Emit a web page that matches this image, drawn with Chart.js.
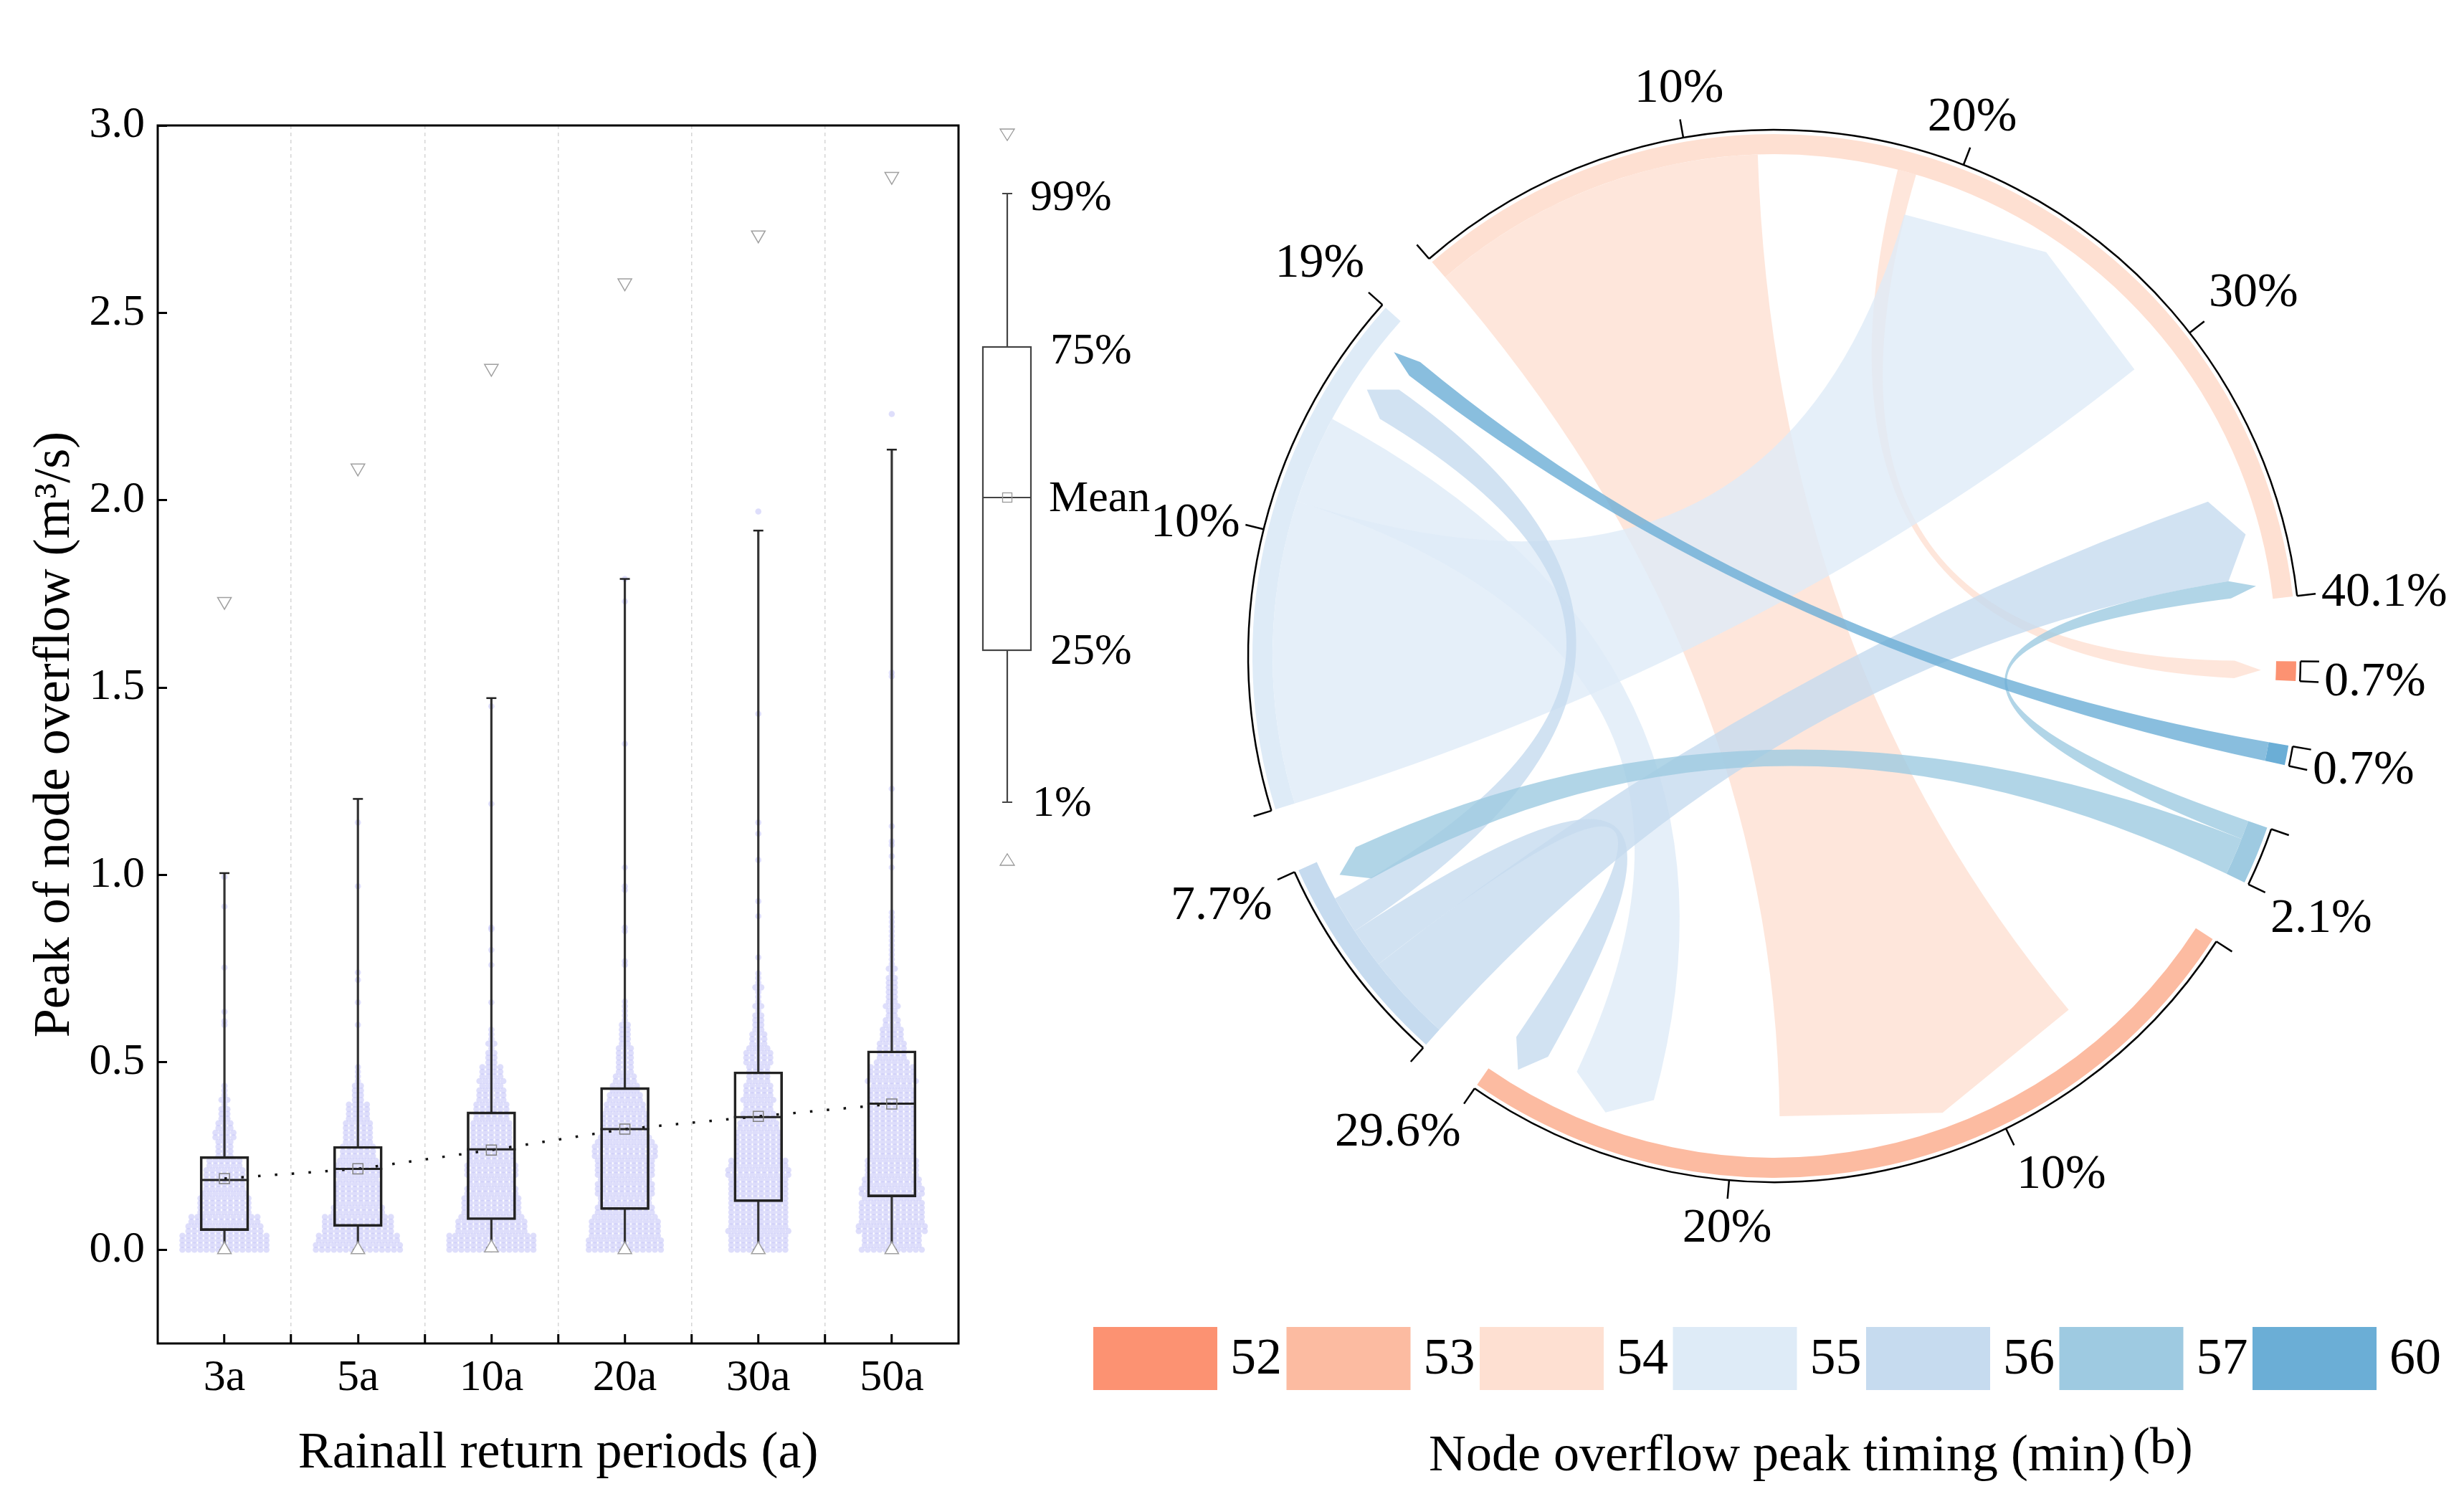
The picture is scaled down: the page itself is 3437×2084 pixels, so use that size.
<!DOCTYPE html>
<html>
<head>
<meta charset="utf-8">
<script src="https://cdn.jsdelivr.net/npm/chart.js"></script>
<style>
html, body { margin: 0; padding: 0; background: #fff; }
body { width: 3437px; height: 2084px; position: relative; overflow: hidden; }
#boxChart { position: absolute; left: 0; top: 0; }
#chordChart { position: absolute; left: 1480px; top: 0; }
</style>
</head>
<body>
<canvas id="boxChart" width="1620" height="2084"></canvas>
<canvas id="chordChart" width="1957" height="2084"></canvas>
<script>
// ---- panel (a): box plot data ----
const periods = ["3a", "5a", "10a", "20a", "30a", "50a"];
const q1 = [0.051, 0.062, 0.080, 0.107, 0.128, 0.141];
const median = [0.186, 0.216, 0.268, 0.322, 0.354, 0.390];
const q3 = [0.249, 0.276, 0.368, 0.433, 0.475, 0.531];
const mean = [0.190, 0.216, 0.266, 0.322, 0.356, 0.389];
const p1 = [0.0, 0.0, 0.005, 0.0, 0.0, 0.0];
const p99 = [1.005, 1.203, 1.472, 1.790, 1.919, 2.135];
const minV = [0.0, 0.0, 0.005, 0.0, 0.0, 0.0];
const maxV = [1.73, 2.086, 2.352, 2.58, 2.708, 2.864];
const yTicks = [0, 0.5, 1.0, 1.5, 2.0, 2.5, 3.0];

// node counts per 0.05 bin (from 0), plus single high values
const swarm3a = [60, 50, 36, 29, 26, 12, 14, 7, 5];
const swarm5a = [58, 48, 34, 31, 31, 23, 20, 16, 8, 4];
const swarm10a = [60, 47, 40, 34, 35, 30, 28, 24, 19, 17, 7, 5];
const swarm20a = [51, 47, 38, 39, 40, 43, 33, 30, 22, 14, 12, 8, 5, 2];
const swarm30a = [40, 41, 40, 40, 42, 32, 30, 22, 21, 16, 19, 11, 7, 5, 5];
const swarm50a = [41, 46, 43, 42, 36, 32, 32, 32, 31, 33, 21, 17, 10, 9, 7, 5, 4, 4, 1];
const sparse3a = [0.60, 0.61, 0.635, 0.753, 0.916, 0.995];
const sparse5a = [0.60, 0.66, 0.72, 0.74, 0.97, 1.14];
const sparse10a = [0.66, 0.76, 0.80, 0.855, 0.86, 1.19, 1.45];
const sparse20a = [0.76, 0.77, 0.85, 0.86, 0.96, 0.97, 1.02, 1.35, 1.73, 1.79];
const sparse30a = [0.78, 0.89, 0.93, 1.04, 1.11, 1.14, 1.43, 1.97];
const sparse50a = [1.02, 1.05, 1.08, 1.09, 1.13, 1.23, 1.53, 1.54, 2.23];

// ---- panel (b): chord data (clockwise from top-left) ----
const groupNames = ["54", "52", "60", "57", "53", "56", "55"];
const groupShare = [40.1, 0.7, 0.7, 2.1, 29.6, 7.7, 19];
const groupColors = ["#FEE0D2", "#FC9272", "#6BAED6", "#9ECAE1", "#FCBBA1", "#C6DBEF", "#DEEBF7"];
const flowFrom = ["54", "54", "55", "55", "56", "56", "56", "57", "57", "60"];
const flowTo = ["53", "52", "54", "53", "54", "53", "55", "54", "56", "55"];
const flowValue = [12.6, 0.7, 11.3, 3.3, 3.3, 1.5, 1.4, 0.7, 1.4, 0.7];
// order of links along each arc; numbers are shares not drawn as links
const arcOrder = [
    ["54>53", 5.2, "54>52", "55>54", 6.1, "56>54", "57>54"],
    ["54>52"],
    ["60>55"],
    ["57>54", "57>56"],
    [5.6, "54>53", 5.1, "55>53", 1.3, "56>53"],
    ["56>54", "56>53", "56>55", "57>56"],
    ["55>54", "55>53", 0.9, "56>55", 0.7, "60>55"],
];
const arcGap = 2.3;

Chart.defaults.font.family = "'Liberation Serif', 'Times New Roman', serif";
Chart.defaults.color = "#000";

// beeswarm layout: 4 rows per bin, dots centred on the category
const rowStep = 0.0125;
const dotStep = 0.045;
function swarmPoints(ci, bins, sparse) {
    const pts = [];
    bins.forEach((n, b) => {
        for (let k = 0; k < 4; k++) {
            const m = Math.floor(n / 4) + (k < n % 4 ? 1 : 0);
            const y = b * 0.05 + k * rowStep;
            for (let j = 0; j < m; j++) {
                pts.push({ x: ci + (j - (m - 1) / 2) * dotStep, y: y });
            }
        }
    });
    sparse.forEach((v) => pts.push({ x: ci, y: v }));
    return pts;
}
const swarmData = [].concat(
    swarmPoints(0, swarm3a, sparse3a),
    swarmPoints(1, swarm5a, sparse5a),
    swarmPoints(2, swarm10a, sparse10a),
    swarmPoints(3, swarm20a, sparse20a),
    swarmPoints(4, swarm30a, sparse30a),
    swarmPoints(5, swarm50a, sparse50a)
);
const xy = (arr) => arr.map((v, i) => ({ x: i, y: v }));
const xTickVals = periods.flatMap((p, i) => (i < periods.length - 1 ? [i, i + 0.5] : [i]));

// frame + box legend for panel (a)
const boxLegend = {
    id: "boxLegend",
    afterDraw(chart) {
        const c = chart.ctx;
        const a = chart.chartArea;
        c.save();
        c.strokeStyle = "#000";
        c.lineWidth = 3;
        c.strokeRect(a.left, a.top, a.right - a.left, a.bottom - a.top);

        const cx = 1405;
        c.strokeStyle = "#444";
        c.lineWidth = 2.2;
        c.beginPath();
        c.moveTo(cx, 270); c.lineTo(cx, 484);
        c.moveTo(cx, 907); c.lineTo(cx, 1119);
        c.moveTo(cx - 7, 270); c.lineTo(cx + 7, 270);
        c.moveTo(cx - 7, 1119); c.lineTo(cx + 7, 1119);
        c.moveTo(1371, 694); c.lineTo(1438, 694);
        c.stroke();
        c.strokeRect(1371, 484, 67, 423);
        c.strokeStyle = "#999";
        c.lineWidth = 1.3;
        c.strokeRect(cx - 6.5, 687.5, 13, 13);
        // max / min triangles
        c.beginPath();
        c.moveTo(cx - 10, 180); c.lineTo(cx + 10, 180); c.lineTo(cx, 196); c.closePath();
        c.moveTo(cx - 10, 1207); c.lineTo(cx + 10, 1207); c.lineTo(cx, 1191); c.closePath();
        c.fillStyle = "#fff";
        c.fill();
        c.stroke();

        c.fillStyle = "#000";
        c.font = "62px 'Liberation Serif', serif";
        c.textBaseline = "middle";
        c.textAlign = "left";
        c.fillText("99%", 1437, 277);
        c.fillText("75%", 1465, 491);
        c.fillText("Mean", 1463, 697);
        c.fillText("25%", 1465, 910);
        c.fillText("1%", 1440, 1122);
        c.restore();
    },
};

new Chart(document.getElementById("boxChart"), {
    type: "bar",
    data: {
        datasets: [
            {
                type: "scatter",
                data: swarmData,
                pointRadius: 4.3,
                pointBackgroundColor: "rgba(200,200,248,0.6)",
                pointBorderWidth: 0,
                order: 10,
            },
            {
                type: "bar",
                data: periods.map((p, i) => ({ x: i, y: [q3[i], p99[i]] })),
                backgroundColor: "#333",
                barThickness: 2.5,
                grouped: false,
                order: 6,
            },
            {
                type: "bar",
                data: periods.map((p, i) => ({ x: i, y: [p1[i], q1[i]] })),
                backgroundColor: "#333",
                barThickness: 2.5,
                grouped: false,
                order: 6,
            },
            {
                type: "bar",
                data: periods.map((p, i) => ({ x: i, y: [q1[i], q3[i]] })),
                backgroundColor: "rgba(0,0,0,0)",
                borderColor: "#222",
                borderWidth: 3,
                borderSkipped: false,
                barThickness: 68,
                grouped: false,
                order: 5,
            },
            {
                type: "line",
                data: xy(mean),
                borderColor: "#111",
                borderWidth: 3.5,
                borderDash: [3.5, 20],
                pointRadius: 0,
                fill: false,
                tension: 0,
                order: 4,
            },
            {
                type: "scatter",
                data: xy(median),
                pointStyle: "line",
                pointRadius: 34,
                pointBorderWidth: 3,
                pointBorderColor: "#222",
                order: 3,
            },
            {
                type: "scatter",
                data: xy(p99).concat(xy(p1)),
                pointStyle: "line",
                pointRadius: 7,
                pointBorderWidth: 2.5,
                pointBorderColor: "#222",
                order: 3,
            },
            {
                type: "scatter",
                data: xy(mean),
                pointStyle: "rect",
                pointRadius: 10,
                pointBorderWidth: 1.5,
                pointBorderColor: "#808080",
                pointBackgroundColor: "rgba(0,0,0,0)",
                order: 2,
            },
            {
                type: "scatter",
                data: xy(maxV),
                pointStyle: "triangle",
                pointRotation: 180,
                pointRadius: 11,
                pointBorderWidth: 1.5,
                pointBorderColor: "#a0a0a0",
                pointBackgroundColor: "#fff",
                order: 1,
            },
            {
                type: "scatter",
                data: xy(minV),
                pointStyle: "triangle",
                pointRadius: 11,
                pointBorderWidth: 1.5,
                pointBorderColor: "#a0a0a0",
                pointBackgroundColor: "#fff",
                order: 0,
            },
        ],
    },
    options: {
        responsive: false,
        devicePixelRatio: 1,
        animation: false,
        events: [],
        layout: { padding: { left: 0, top: 175, right: 283, bottom: 0 } },
        plugins: { legend: { display: false }, tooltip: { enabled: false } },
        scales: {
            x: {
                type: "linear",
                min: -0.5,
                max: 5.5,
                offset: false,
                afterBuildTicks: (s) => { s.ticks = xTickVals.map((v) => ({ value: v })); },
                afterFit: (s) => { s.height = 210; },
                ticks: {
                    autoSkip: false,
                    maxRotation: 0,
                    font: { size: 62 },
                    padding: 25,
                    callback: (v) => (Number.isInteger(v) ? periods[v] : ""),
                },
                grid: {
                    offset: false,
                    color: (c) => (c.tick && c.tick.value % 1 !== 0 ? "#d6d6d6" : "rgba(0,0,0,0)"),
                    lineWidth: 1.5,
                    tickLength: -13,
                    tickWidth: 3,
                    tickColor: "#000",
                },
                border: { display: false, dash: [5, 5] },
                title: {
                    display: true,
                    text: "Rainall return periods (a)",
                    font: { size: 72 },
                    padding: { top: 0, bottom: 13 },
                },
            },
            y: {
                type: "linear",
                min: -0.25,
                max: 3.0,
                afterBuildTicks: (s) => { s.ticks = yTicks.map((v) => ({ value: v })); },
                afterFit: (s) => { s.width = 220; },
                ticks: { font: { size: 62 }, padding: 31, callback: (v) => v.toFixed(1) },
                grid: { drawOnChartArea: false, tickLength: -13, tickWidth: 3, tickColor: "#000" },
                border: { display: false },
                title: {
                    display: true,
                    text: "Peak of node overflow (m³/s)",
                    font: { size: 72 },
                    padding: { top: 34, bottom: 0 },
                },
            },
        },
    },
    plugins: [boxLegend],
});

// ---- panel (b) ----
const doughnutData = groupShare.flatMap((v) => [v, arcGap]);
const doughnutColors = groupColors.flatMap((c) => [c, "rgba(0,0,0,0)"]);

const chordPlugin = {
    id: "chordLinks",
    afterDatasetsDraw(chart) {
        const ctx = chart.ctx;
        const arcs = chart.getDatasetMeta(0).data;
        const cx = arcs[0].x;
        const cy = arcs[0].y;
        const R = arcs[0].outerRadius;
        const Rin = arcs[0].innerRadius;
        const k = R / 728;
        const pt = (a, r) => [cx + r * Math.cos(a), cy + r * Math.sin(a)];

        const span = groupNames.map((g, i) => {
            const el = arcs[i * 2];
            return { start: el.startAngle, end: el.endAngle, per: (el.endAngle - el.startAngle) / groupShare[i] };
        });
        const flowKey = flowFrom.map((f, i) => f + ">" + flowTo[i]);
        const slot = {};
        arcOrder.forEach((list, gi) => {
            let a = span[gi].start;
            list.forEach((item) => {
                const isFlow = typeof item === "string";
                const v = isFlow ? flowValue[flowKey.indexOf(item)] : item;
                const a0 = a;
                a += v * span[gi].per;
                if (isFlow) slot[item + "@" + groupNames[gi]] = [a0, a];
            });
        });

        // links
        ctx.save();
        ctx.globalAlpha = 0.8;
        const rc = 642 * k;
        const rt = 679 * k;
        flowKey.forEach((key, i) => {
            const [a1, a2] = slot[key + "@" + flowFrom[i]];
            const [b1, b2] = slot[key + "@" + flowTo[i]];
            ctx.beginPath();
            ctx.arc(cx, cy, Rin, a1, a2);
            ctx.quadraticCurveTo(cx, cy, ...pt(b1, rc));
            ctx.lineTo(...pt((b1 + b2) / 2, rt));
            ctx.lineTo(...pt(b2, rc));
            ctx.quadraticCurveTo(cx, cy, ...pt(a1, Rin));
            ctx.closePath();
            ctx.fillStyle = groupColors[groupNames.indexOf(flowFrom[i])];
            ctx.fill();
        });
        ctx.restore();

        // outer axis arcs, ticks and percent labels
        ctx.save();
        ctx.strokeStyle = "#000";
        ctx.lineWidth = 2.5 * k;
        ctx.fillStyle = "#000";
        ctx.font = "68px 'Liberation Serif', serif";
        const rLine = 734 * k;
        const rTick = 760 * k;
        const rLab = 768 * k;
        const tick = (a) => {
            ctx.beginPath();
            ctx.moveTo(...pt(a, rLine));
            ctx.lineTo(...pt(a, rTick));
            ctx.stroke();
        };
        const label = (a, text) => {
            const ux = Math.cos(a);
            const uy = Math.sin(a);
            ctx.textAlign = ux > 0.4 ? "left" : ux < -0.4 ? "right" : "center";
            ctx.textBaseline = uy < -0.35 ? "bottom" : uy > 0.35 ? "top" : "middle";
            ctx.fillText(text, ...pt(a, rLab));
        };
        span.forEach((s, gi) => {
            ctx.beginPath();
            ctx.arc(cx, cy, rLine, s.start, s.end);
            ctx.stroke();
            tick(s.start);
            for (let p = 10; p < groupShare[gi] - 2; p += 10) {
                const a = s.start + p * s.per;
                tick(a);
                label(a, p + "%");
            }
            tick(s.end);
            label(s.end, groupShare[gi] + "%");
        });
        ctx.restore();
    },
    afterDraw(chart) {
        const ctx = chart.ctx;
        ctx.save();
        // colour legend, sorted by timing
        const legendOrder = groupNames.slice().sort((a, b) => Number(a) - Number(b));
        ctx.font = "72px 'Liberation Serif', serif";
        ctx.textAlign = "left";
        ctx.textBaseline = "middle";
        legendOrder.forEach((g, i) => {
            const x = 45 + i * 269.5;
            ctx.fillStyle = groupColors[groupNames.indexOf(g)];
            ctx.fillRect(x, 1851, 173, 88);
            ctx.fillStyle = "#000";
            ctx.fillText(g, x + 191, 1897);
        });
        // axis title
        const title = "Node overflow peak timing (min)";
        ctx.textAlign = "center";
        ctx.fillText(title, 999, 2032);
        const w = ctx.measureText(title).width;
        ctx.textAlign = "left";
        ctx.fillText("(b)", 999 + w / 2 + 10, 2022);
        ctx.restore();
    },
};

new Chart(document.getElementById("chordChart"), {
    type: "doughnut",
    data: {
        labels: groupNames.flatMap((g) => [g, ""]),
        datasets: [
            {
                data: doughnutData,
                backgroundColor: doughnutColors,
                borderWidth: 0,
                hoverOffset: 0,
                offset: 0,
            },
        ],
    },
    options: {
        responsive: false,
        devicePixelRatio: 1,
        animation: false,
        events: [],
        rotation: -41,
        cutout: "96.15%",
        layout: { padding: { left: 267, right: 234, top: 187, bottom: 441 } },
        plugins: { legend: { display: false }, tooltip: { enabled: false } },
    },
    plugins: [chordPlugin],
});
</script>
</body>
</html>
